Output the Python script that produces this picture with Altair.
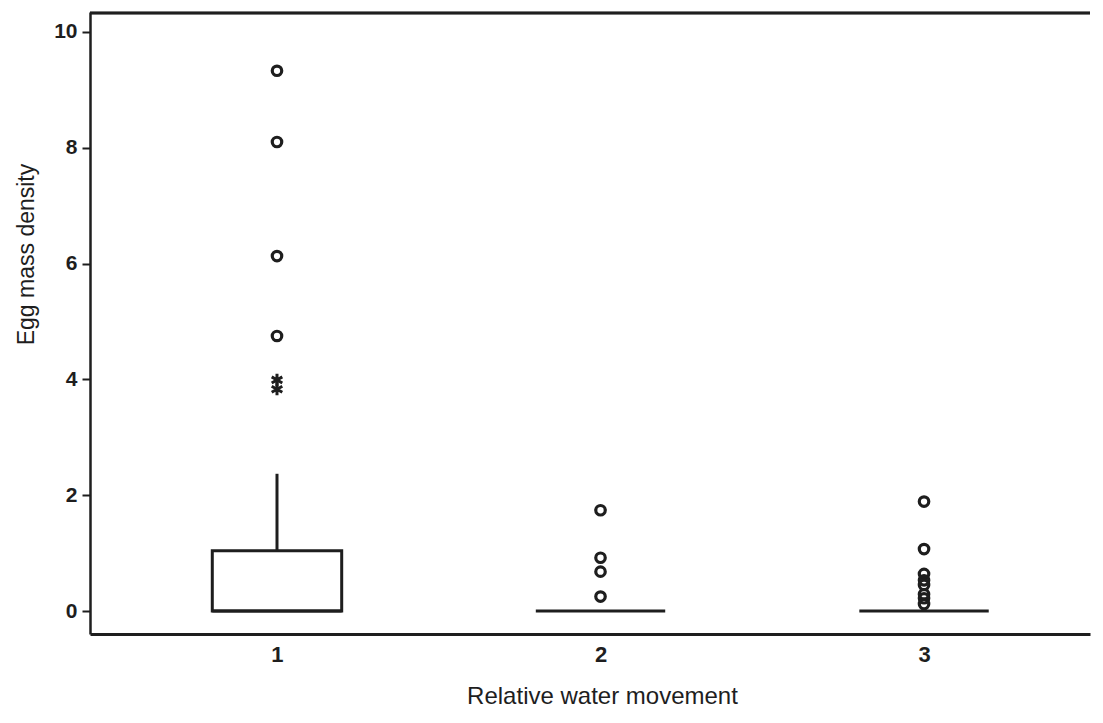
import altair as alt
import pandas as pd

# ---- data ----
groups = [1, 2, 3]
q1 = [0.0, 0.0, 0.0]
median = [0.0, 0.0, 0.0]
q3 = [1.04, 0.0, 0.0]
whisker_hi = [2.37, 0.0, 0.0]

outlier_group = [1, 1, 1, 1,
                 2, 2, 2, 2,
                 3, 3, 3, 3, 3, 3, 3, 3]
outlier_value = [9.33, 8.10, 6.13, 4.75,
                 1.74, 0.92, 0.68, 0.25,
                 1.89, 1.07, 0.64, 0.53, 0.45, 0.29, 0.22, 0.12]

extreme_group = [1, 1]
extreme_value = [3.99, 3.83]

y_ticks = [0, 2, 4, 6, 8, 10]
x_ticks = [1, 2, 3]

INK = "#1e1e1e"
FONT = "Liberation Sans"

box_df = pd.DataFrame({"group": groups, "q1": q1, "median": median,
                       "q3": q3, "hi": whisker_hi})
out_df = pd.DataFrame({"group": outlier_group, "value": outlier_value})
ext_df = pd.DataFrame({"group": extreme_group, "value": extreme_value})

xscale = alt.Scale(domain=[0.422, 3.513], nice=False, zero=False)
yscale = alt.Scale(domain=[-0.397, 10.345], nice=False, zero=False)

xaxis = alt.Axis(values=x_ticks, format="d", ticks=False, grid=False,
                 domainColor=INK, domainWidth=2.8, labelPadding=10,
                 labelFont=FONT, labelFontSize=22, labelFontWeight="bold",
                 labelColor=INK, title="Relative water movement",
                 titleFont=FONT, titleFontSize=24, titleFontWeight="normal",
                 titleColor=INK, titleX=512, titleY=69,
                 titleBaseline="alphabetic", titleAlign="center")
yaxis = alt.Axis(values=y_ticks, format="d", grid=False, tickSize=8,
                 tickWidth=2, tickColor=INK, domainColor=INK, domainWidth=2.5,
                 labelPadding=5, labelFont=FONT, labelFontSize=21,
                 labelFontWeight="bold", labelColor=INK,
                 title="Egg mass density",
                 titleFont=FONT, titleFontSize=23,
                 titleFontWeight="normal", titleColor=INK, titleX=-64,
                 titleY=242, titleBaseline="middle", titleAlign="center",
                 titleAngle=270)

base_box = alt.Chart(box_df).transform_calculate(
    x1="datum.group - 0.2", x2="datum.group + 0.2"
)

boxes = base_box.transform_filter("datum.q3 > datum.q1").mark_rect(
    fill="white", stroke=INK, strokeWidth=3
).encode(
    x=alt.X("x1:Q", scale=xscale, axis=xaxis),
    x2="x2:Q",
    y=alt.Y("q1:Q", scale=yscale, axis=yaxis),
    y2="q3:Q",
)

whiskers = base_box.transform_filter("datum.hi > datum.q3").mark_rule(
    color=INK, strokeWidth=3
).encode(
    x=alt.X("group:Q", scale=xscale),
    y=alt.Y("q3:Q", scale=yscale),
    y2="hi:Q",
)

medians = base_box.mark_rule(color=INK, strokeWidth=3).encode(
    x=alt.X("x1:Q", scale=xscale),
    x2="x2:Q",
    y=alt.Y("median:Q", scale=yscale),
)

outliers = alt.Chart(out_df).mark_point(
    shape="circle", filled=False, stroke=INK, strokeWidth=3.2, size=90,
    opacity=1
).encode(
    x=alt.X("group:Q", scale=xscale),
    y=alt.Y("value:Q", scale=yscale),
)

asterisk = "M0,-1L0,1M-0.866,-0.5L0.866,0.5M-0.866,0.5L0.866,-0.5"
extremes = alt.Chart(ext_df).mark_point(
    shape=asterisk, filled=False, stroke=INK, strokeWidth=3, size=150,
    opacity=1
).encode(
    x=alt.X("group:Q", scale=xscale),
    y=alt.Y("value:Q", scale=yscale),
)

top_frame = alt.Chart(box_df).mark_rule(color=INK, strokeWidth=2.5).encode(
    x=alt.value(0), x2=alt.value(1000), y=alt.value(1)
)

chart = alt.layer(boxes, whiskers, medians, outliers, extremes, top_frame).properties(
    width=1000, height=622,
    autosize=alt.AutoSizeParams(type="none"),
    padding={"left": 82, "top": 4, "right": 5, "bottom": 74},
    background="white",
).configure_view(strokeWidth=0)

chart.save("out.html", embed_options={"renderer": "svg", "actions": False})
